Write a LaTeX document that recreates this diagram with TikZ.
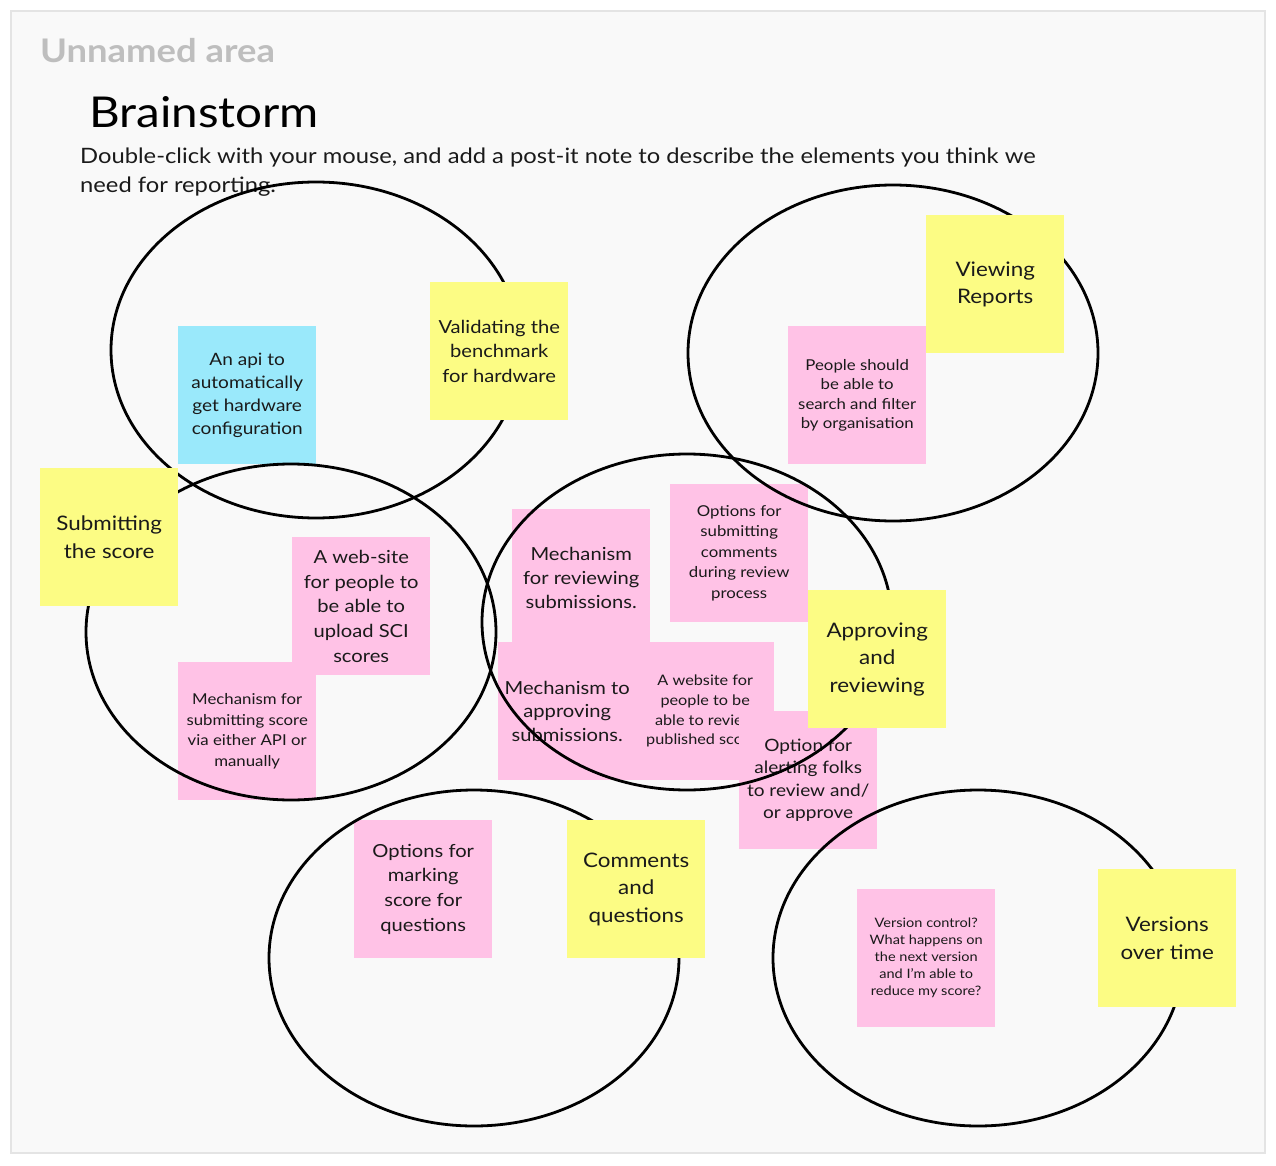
\documentclass[tikz,border=0pt]{standalone}
\usepackage{fontspec}
\setmainfont{Lato}[FakeStretch=1.12]
\definecolor{stYellow}{RGB}{252,252,132}
\definecolor{stPink}{RGB}{255,194,230}
\definecolor{stBlue}{RGB}{154,233,251}
\definecolor{frameBg}{RGB}{249,249,249}
\definecolor{frameLine}{RGB}{228,228,228}
\definecolor{txt}{RGB}{26,26,26}
\definecolor{areaGray}{RGB}{190,190,190}
\tikzset{
  note/.style={minimum width=138pt, minimum height=138pt, inner sep=0pt, align=center, text=txt, anchor=north west},
  yel/.style={note, fill=stYellow, font=\fontsize{20}{27.5}\selectfont},
  pnk/.style={note, fill=stPink},
  blu/.style={note, fill=stBlue},
  ring/.style={draw=black, line width=2.8pt},
}
\begin{document}
\begin{tikzpicture}[x=1pt,y=-1pt]
\useasboundingbox (0,0) rectangle (1276,1166);
\fill[white] (0,0) rectangle (1276,1166);
\draw[frameLine, line width=2.5pt, fill=frameBg] (11,11) rectangle (1265,1153);
\node[anchor=base west, inner sep=0pt, text=areaGray, font=\fontsize{32.5}{38}\selectfont\bfseries] (area) at (40,63) {Unnamed area};
\node[anchor=base west, inner sep=0pt, text=black, font=\fontsize{42.5}{50}\selectfont] (title) at (89,128) {Brainstorm};
\node[anchor=base west, inner sep=0pt, text=txt, align=left, font=\fontsize{21.2}{28.5}\selectfont] (desc) at (80,192.5) {Double-click with your mouse, and add a post-it note to describe the elements you think we\\need for reporting.};
% pink and blue notes
\node[blu, font=\fontsize{17}{23}\selectfont] (api) at (178,326) {An api to\\automatically\\get hardware\\configuration};
\node[pnk, font=\fontsize{15}{19.5}\selectfont] (people) at (788,326) {People should\\be able to\\search and filter\\by organisation};
\node[pnk, font=\fontsize{18}{24.7}\selectfont] (website) at (292,537) {A web-site\\for people to\\be able to\\upload SCI\\scores};
\node[pnk, font=\fontsize{15}{20.7}\selectfont] (mechsub) at (178,662) {Mechanism for\\submitting score\\via either API or\\manually};
\node[pnk, font=\fontsize{18}{24}\selectfont] (mechrev) at (512,509) {Mechanism\\for reviewing\\submissions.};
\node[pnk, font=\fontsize{15}{20.5}\selectfont] (optcom) at (670,484) {Options for\\submitting\\comments\\during review\\process};
\node[pnk, font=\fontsize{18}{23.5}\selectfont] (mechapp) at (498,642) {Mechanism to\\approving\\submissions.};
\node[pnk, font=\fontsize{14.5}{19.7}\selectfont] (webpub) at (636,642) {A website for\\people to be\\able to review\\published scores};
\node[pnk, font=\fontsize{17}{22.3}\selectfont] (alert) at (739,711) {Option for\\alerting folks\\to review and/\\or approve};
\node[pnk, font=\fontsize{18}{24.7}\selectfont] (marking) at (354,820) {Options for\\marking\\score for\\questions};
\node[pnk, font=\fontsize{13}{17}\selectfont] (vctrl) at (857,889) {Version control?\\What happens on\\the next version\\and I'm able to\\reduce my score?};
% rings
\draw[ring] (316,350) ellipse [x radius=205, y radius=168];
\draw[ring] (893,353) ellipse [x radius=205, y radius=168];
\draw[ring] (291,632) ellipse [x radius=205, y radius=168];
\draw[ring] (687,622) ellipse [x radius=205, y radius=168];
\draw[ring] (978,958) ellipse [x radius=205, y radius=168];
\draw[ring] (474,958) ellipse [x radius=205, y radius=168];
% yellow notes
\node[yel, font=\fontsize{18}{24.5}\selectfont] (valid) at (430,282) {Validating the\\benchmark\\for hardware};
\node[yel] (view) at (926,215) {Viewing\\Reports};
\node[yel] (submit) at (40,468) {Submitting\\the score};
\node[yel] (approve) at (808,590) {Approving\\and\\reviewing};
\node[yel] (comments) at (567,820) {Comments\\and\\questions};
\node[yel] (versions) at (1098,869) {Versions\\over time};
\end{tikzpicture}
\end{document}
